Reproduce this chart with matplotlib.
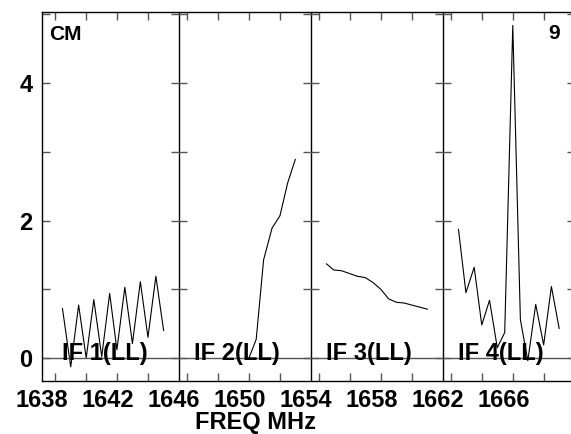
import numpy as np
import matplotlib.pyplot as plt

plt.rcParams['font.family'] = ['Liberation Sans', 'DejaVu Sans']
plt.rcParams['font.weight'] = 'bold'

# IF 1 .. IF 4 spectra (freq in MHz, amplitude)
if1_freq = [1639.24, 1639.74, 1640.22, 1640.68, 1641.14, 1641.62, 1642.10,
            1642.54, 1643.02, 1643.48, 1643.96, 1644.42, 1644.90, 1645.37]
if1_amp = [0.72, -0.13, 0.77, 0.00, 0.85, 0.02, 0.94,
           0.12, 1.03, 0.21, 1.11, 0.30, 1.19, 0.40]

if2_freq = [1650.54, 1650.98, 1651.43, 1651.94, 1652.42, 1652.89, 1653.35]
if2_amp = [0.00, 0.27, 1.43, 1.89, 2.07, 2.55, 2.89]

if3_freq = [1655.24, 1655.69, 1656.15, 1656.63, 1657.09, 1657.59, 1658.05,
            1658.53, 1659.01, 1659.49, 1659.95, 1660.41, 1660.89, 1661.35]
if3_amp = [1.37, 1.28, 1.27, 1.23, 1.19, 1.17, 1.10,
           1.00, 0.86, 0.81, 0.80, 0.77, 0.74, 0.71]

if4_freq = [1663.24, 1663.69, 1664.19, 1664.65, 1665.12, 1665.59, 1666.04,
            1666.53, 1666.99, 1667.44, 1667.92, 1668.40, 1668.87, 1669.34]
if4_amp = [1.87, 0.95, 1.32, 0.48, 0.84, 0.15, 0.37,
           4.84, 0.56, -0.04, 0.78, 0.19, 1.04, 0.43]

if_names = ['IF 1(LL)', 'IF 2(LL)', 'IF 3(LL)', 'IF 4(LL)']
panel_start = [1638.3, 1646.3, 1654.3, 1662.3]
freq_labels = [1638, 1642, 1646, 1650, 1654, 1658, 1662, 1666]

fig = plt.figure(figsize=(5.71, 4.34), dpi=100)
ax = fig.add_axes([42/571, 53/434, 533/571, 369.3/434])

for f, a in [(if1_freq, if1_amp), (if2_freq, if2_amp),
             (if3_freq, if3_amp), (if4_freq, if4_amp)]:
    ax.plot(f, a, color='black', lw=0.8)

ax.axhline(0, color='#555555', lw=1)
for s in panel_start[1:]:
    ax.axvline(s, color='black', lw=1)
    ax.plot([s]*6, range(6), ls='none', marker='_', ms=11.5, mew=1, color='#555555')

for s, name in zip(panel_start, if_names):
    ax.text(s + 0.9, -0.03, name, fontsize=17, fontweight='bold', va='baseline')

ax.set_xlim(1638.3, 1670.3)
ax.set_ylim(-0.335, 5.04)

ax.set_yticks([0, 2, 4])
ax.set_yticks([1, 3, 5], minor=True)
ax.tick_params(axis='y', which='both', direction='in', length=5.8, width=1,
               color='#555555', left=True, right=True, labelsize=17, pad=7)

ax.set_xticks(freq_labels)
ax.set_xticklabels([str(v) for v in freq_labels])
minor = [s + 0.47 + 1.88*k for s in panel_start for k in range(4)]
ax.set_xticks(minor, minor=True)
ax.tick_params(axis='x', which='major', length=0, labelsize=17, pad=6)
ax.tick_params(axis='x', which='minor', direction='in', length=5.8, width=1,
               color='#555555', top=True, bottom=True)

for sp in ax.spines.values():
    sp.set_color('black')
    sp.set_linewidth(1)

ax.set_xlabel('FREQ MHz', fontsize=17, fontweight='bold')
ax.xaxis.set_label_coords(0.4015, -0.081)

ax.text((49 - 42)/533, 1 - (25 - 11.7)/369.3, 'CM', transform=ax.transAxes,
        fontsize=15, fontweight='bold', va='top', ha='left')
ax.text((560 - 42)/533, 1 - (24 - 11.7)/369.3, '9', transform=ax.transAxes,
        fontsize=15, fontweight='bold', va='top', ha='right')

fig.savefig('out.png', dpi=100)
